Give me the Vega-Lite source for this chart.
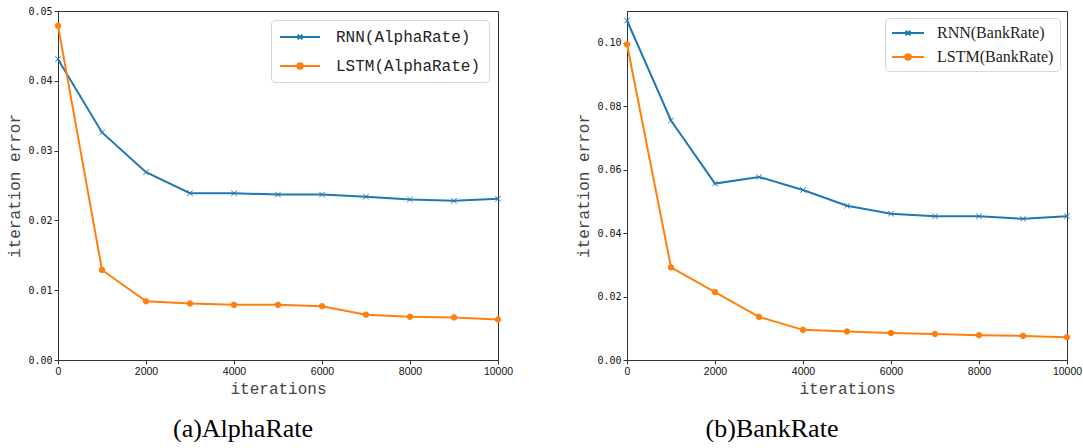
{
  "$schema": "https://vega.github.io/schema/vega-lite/v6.json",
  "padding": {"left": 5, "top": 5, "right": 0, "bottom": 0},
  "background": "white",
  "spacing": 60,
  "config": {
    "view": {"stroke": "#333", "strokeWidth": 1},
    "axis": {
      "grid": false,
      "domainColor": "#333",
      "tickColor": "#333",
      "tickSize": 4,
      "labelColor": "#111",
      "titleColor": "#444",
      "titleFont": "Liberation Mono",
      "titleFontSize": 16,
      "titleFontWeight": "normal"
    },
    "axisX": {"labelFont": "Liberation Sans", "labelFontSize": 10.5, "labelPadding": 2, "titlePadding": 4, "labelFlush": false},
    "axisY": {"labelFont": "DejaVu Sans Mono", "labelFontSize": 10, "labelPadding": 2, "titlePadding": 4}
  },
  "resolve": {"scale": {"color": "independent"}},
  "hconcat": [
    {
      "width": 440,
      "height": 349,
      "title": {"text": "(a)AlphaRate", "orient": "bottom", "frame": "group", "anchor": "middle", "dx": -35, "offset": 19, "font": "Liberation Serif", "fontSize": 26, "fontWeight": "normal", "color": "#000"},
      "data": {"values": [
        {"it": 0, "s": "RNN(AlphaRate)", "e": 0.0431},
        {"it": 1000, "s": "RNN(AlphaRate)", "e": 0.0326},
        {"it": 2000, "s": "RNN(AlphaRate)", "e": 0.0269},
        {"it": 3000, "s": "RNN(AlphaRate)", "e": 0.0239},
        {"it": 4000, "s": "RNN(AlphaRate)", "e": 0.0239},
        {"it": 5000, "s": "RNN(AlphaRate)", "e": 0.0237},
        {"it": 6000, "s": "RNN(AlphaRate)", "e": 0.0237},
        {"it": 7000, "s": "RNN(AlphaRate)", "e": 0.0234},
        {"it": 8000, "s": "RNN(AlphaRate)", "e": 0.0230},
        {"it": 9000, "s": "RNN(AlphaRate)", "e": 0.0228},
        {"it": 10000, "s": "RNN(AlphaRate)", "e": 0.0231},
        {"it": 0, "s": "LSTM(AlphaRate)", "e": 0.0479},
        {"it": 1000, "s": "LSTM(AlphaRate)", "e": 0.0129},
        {"it": 2000, "s": "LSTM(AlphaRate)", "e": 0.0084},
        {"it": 3000, "s": "LSTM(AlphaRate)", "e": 0.0081},
        {"it": 4000, "s": "LSTM(AlphaRate)", "e": 0.0079},
        {"it": 5000, "s": "LSTM(AlphaRate)", "e": 0.0079},
        {"it": 6000, "s": "LSTM(AlphaRate)", "e": 0.0077},
        {"it": 7000, "s": "LSTM(AlphaRate)", "e": 0.0065},
        {"it": 8000, "s": "LSTM(AlphaRate)", "e": 0.0062},
        {"it": 9000, "s": "LSTM(AlphaRate)", "e": 0.0061},
        {"it": 10000, "s": "LSTM(AlphaRate)", "e": 0.0058}
      ]},
      "encoding": {
        "x": {"field": "it", "type": "quantitative", "scale": {"domain": [0, 10000], "nice": false}, "axis": {"title": "iterations", "values": [0, 2000, 4000, 6000, 8000, 10000], "format": "d"}},
        "y": {"field": "e", "type": "quantitative", "scale": {"domain": [0, 0.05], "nice": false}, "axis": {"title": "iteration error", "values": [0, 0.01, 0.02, 0.03, 0.04, 0.05], "format": ".2f", "minExtent": 32, "maxExtent": 32}}
      },
      "layer": [
        {
          "mark": {"type": "line", "strokeWidth": 2},
          "encoding": {
            "color": {"field": "s", "type": "nominal", "scale": {"domain": ["RNN(AlphaRate)", "LSTM(AlphaRate)"], "range": ["#1f77b4", "#ff7f0e"]},
              "legend": {"title": null, "orient": "top-right", "offset": 9, "padding": 8, "strokeColor": "#d6d6d6", "fillColor": "rgba(255,255,255,0.85)", "cornerRadius": 4, "labelFont": "Liberation Mono", "labelFontSize": 16, "labelColor": "#222", "symbolType": "stroke", "symbolSize": 256, "symbolStrokeWidth": 2, "rowPadding": 12, "labelOffset": 39,
                "encode": {"symbols": {"update": {"shape": {"signal": "datum.value === 'RNN(AlphaRate)' ? 'M-1,0H4M1.2,-0.3L1.8,0.3M1.2,0.3L1.8,-0.3' : 'M-1,0H4M1.15,0A0.35,0.35 0 1,0 1.85,0A0.35,0.35 0 1,0 1.15,0Z'"}, "fill": {"signal": "datum.value === 'LSTM(AlphaRate)' ? '#ff7f0e' : 'transparent'"}}}}}}
          }
        },
        {
          "mark": {"type": "point", "filled": true, "size": 30, "strokeWidth": 1, "opacity": 1},
          "encoding": {
            "color": {"field": "s", "type": "nominal", "legend": null},
            "stroke": {"field": "s", "type": "nominal", "scale": {"domain": ["RNN(AlphaRate)", "LSTM(AlphaRate)"], "range": ["#1f77b4", "#ff7f0e"]}, "legend": null},
            "shape": {"field": "s", "type": "nominal", "scale": {"domain": ["RNN(AlphaRate)", "LSTM(AlphaRate)"], "range": ["M-1,-1L1,1M-1,1L1,-1", "circle"]}, "legend": null}
          }
        }
      ]
    },
    {
      "width": 440,
      "height": 349,
      "title": {"text": "(b)BankRate", "orient": "bottom", "frame": "group", "anchor": "middle", "dx": -75, "offset": 19, "font": "Liberation Serif", "fontSize": 26, "fontWeight": "normal", "color": "#000"},
      "data": {"values": [
        {"it": 0, "s": "RNN(BankRate)", "e": 0.1070},
        {"it": 1000, "s": "RNN(BankRate)", "e": 0.0755},
        {"it": 2000, "s": "RNN(BankRate)", "e": 0.0556},
        {"it": 3000, "s": "RNN(BankRate)", "e": 0.0577},
        {"it": 4000, "s": "RNN(BankRate)", "e": 0.0536},
        {"it": 5000, "s": "RNN(BankRate)", "e": 0.0486},
        {"it": 6000, "s": "RNN(BankRate)", "e": 0.0461},
        {"it": 7000, "s": "RNN(BankRate)", "e": 0.0453},
        {"it": 8000, "s": "RNN(BankRate)", "e": 0.0453},
        {"it": 9000, "s": "RNN(BankRate)", "e": 0.0445},
        {"it": 10000, "s": "RNN(BankRate)", "e": 0.0453},
        {"it": 0, "s": "LSTM(BankRate)", "e": 0.0995},
        {"it": 1000, "s": "LSTM(BankRate)", "e": 0.0292},
        {"it": 2000, "s": "LSTM(BankRate)", "e": 0.0214},
        {"it": 3000, "s": "LSTM(BankRate)", "e": 0.0136},
        {"it": 4000, "s": "LSTM(BankRate)", "e": 0.0095},
        {"it": 5000, "s": "LSTM(BankRate)", "e": 0.0090},
        {"it": 6000, "s": "LSTM(BankRate)", "e": 0.0085},
        {"it": 7000, "s": "LSTM(BankRate)", "e": 0.0082},
        {"it": 8000, "s": "LSTM(BankRate)", "e": 0.0078},
        {"it": 9000, "s": "LSTM(BankRate)", "e": 0.0076},
        {"it": 10000, "s": "LSTM(BankRate)", "e": 0.0072}
      ]},
      "encoding": {
        "x": {"field": "it", "type": "quantitative", "scale": {"domain": [0, 10000], "nice": false}, "axis": {"title": "iterations", "values": [0, 2000, 4000, 6000, 8000, 10000], "format": "d"}},
        "y": {"field": "e", "type": "quantitative", "scale": {"domain": [0, 0.11], "nice": false}, "axis": {"title": "iteration error", "values": [0, 0.02, 0.04, 0.06, 0.08, 0.10], "format": ".2f", "minExtent": 32, "maxExtent": 32}}
      },
      "layer": [
        {
          "mark": {"type": "line", "strokeWidth": 2},
          "encoding": {
            "color": {"field": "s", "type": "nominal", "scale": {"domain": ["RNN(BankRate)", "LSTM(BankRate)"], "range": ["#1f77b4", "#ff7f0e"]},
              "legend": {"title": null, "orient": "top-right", "offset": 7, "padding": 6, "strokeColor": "#d6d6d6", "fillColor": "rgba(255,255,255,0.85)", "cornerRadius": 4, "labelFont": "Liberation Serif", "labelFontSize": 16, "labelColor": "#222", "symbolType": "stroke", "symbolSize": 256, "symbolStrokeWidth": 2, "rowPadding": 7, "labelOffset": 28,
                "encode": {"symbols": {"update": {"shape": {"signal": "datum.value === 'RNN(BankRate)' ? 'M-1,0H3M0.7,-0.3L1.3,0.3M0.7,0.3L1.3,-0.3' : 'M-1,0H3M0.65,0A0.35,0.35 0 1,0 1.35,0A0.35,0.35 0 1,0 0.65,0Z'"}, "fill": {"signal": "datum.value === 'LSTM(BankRate)' ? '#ff7f0e' : 'transparent'"}}}}}}
          }
        },
        {
          "mark": {"type": "point", "filled": true, "size": 30, "strokeWidth": 1, "opacity": 1},
          "encoding": {
            "color": {"field": "s", "type": "nominal", "legend": null},
            "stroke": {"field": "s", "type": "nominal", "scale": {"domain": ["RNN(BankRate)", "LSTM(BankRate)"], "range": ["#1f77b4", "#ff7f0e"]}, "legend": null},
            "shape": {"field": "s", "type": "nominal", "scale": {"domain": ["RNN(BankRate)", "LSTM(BankRate)"], "range": ["M-1,-1L1,1M-1,1L1,-1", "circle"]}, "legend": null}
          }
        }
      ]
    }
  ]
}
